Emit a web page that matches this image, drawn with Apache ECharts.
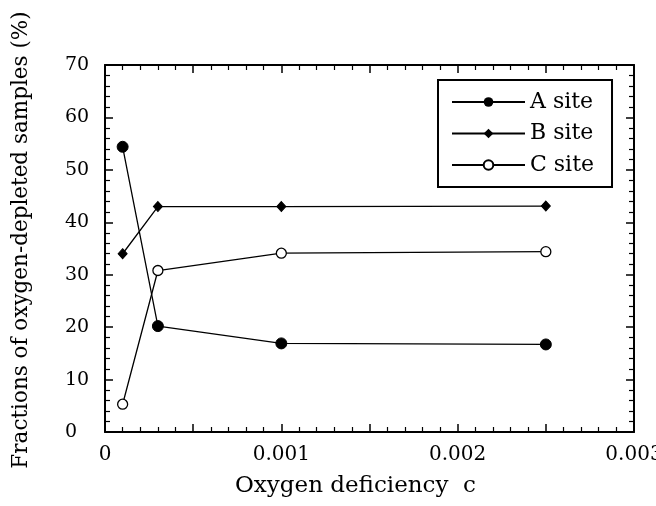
<!DOCTYPE html>
<html><head><meta charset="utf-8">
<script src="https://cdn.jsdelivr.net/npm/echarts@6/dist/echarts.min.js"></script>
<style>html,body{margin:0;padding:0;background:#fff}#c{width:656px;height:506px}</style>
</head><body><div id="c"></div>
<script>
const xValues = [0.0001, 0.0003, 0.001, 0.0025];
const aSite = [54.4, 20.2, 16.9, 16.7];
const bSite = [34.0, 43.0, 43.0, 43.1];
const cSite = [5.3, 30.8, 34.1, 34.4];
const seriesNames = ['A site', 'B site', 'C site'];
const xTitle = 'Oxygen deficiency  c';
const yTitle = 'Fractions of oxygen-depleted samples (%)';

const FONT = 'DejaVu Serif';
const pair = ys => xValues.map((x, i) => [x, ys[i]]);
const fmtX = v => Math.abs(v * 1000 - Math.round(v * 1000)) < 1e-6 ? String(Math.round(v * 1000) / 1000) : '';
const axisCommon = () => ({
  axisLine: { show: true, onZero: false, lineStyle: { color: '#000', width: 2 } },
  axisTick: { show: true, inside: true, length: 8, lineStyle: { color: '#000', width: 1.5 } },
  minorTick: { show: true, splitNumber: 5, length: 5, lineStyle: { color: '#000', width: 1.2 } },
  splitLine: { show: false },
  minorSplitLine: { show: false }
});
const chart = echarts.init(document.getElementById('c'));
chart.setOption({
  animation: false,
  backgroundColor: '#fff',
  grid: { left: 105, top: 65, right: 22, bottom: 74, containLabel: false, outerBoundsMode: 'none' },
  legend: {
    left: 438, top: 80,
    orient: 'vertical',
    data: seriesNames,
    itemWidth: 73, itemHeight: 12, itemGap: 9.5,
    padding: [11, 18, 11, 13],
    borderColor: '#000', borderWidth: 2,
    textStyle: { fontFamily: FONT, fontSize: 22, color: '#000' }
  },
  xAxis: [
    Object.assign({
      type: 'value', min: 0, max: 0.003, interval: 0.0005, position: 'bottom',
      name: xTitle, nameLocation: 'middle', nameGap: 43,
      nameTextStyle: { fontFamily: FONT, fontSize: 23, color: '#000', padding: [0, 28, 0, 0] },
      axisLabel: { formatter: fmtX, fontFamily: FONT, fontSize: 20, color: '#000', margin: 13 }
    }, axisCommon()),
    Object.assign({
      type: 'value', min: 0, max: 0.003, interval: 0.0005, position: 'top',
      axisLabel: { show: false }
    }, axisCommon())
  ],
  yAxis: [
    Object.assign({
      type: 'value', min: 0, max: 70, interval: 10, position: 'left',
      name: yTitle, nameLocation: 'middle', nameGap: 73,
      nameTextStyle: { fontFamily: FONT, fontSize: 21.5, color: '#000', padding: [0, 0, 0, 17] },
      axisLabel: { fontFamily: FONT, fontSize: 19, color: '#000', margin: 40, align: 'left' }
    }, axisCommon()),
    Object.assign({
      type: 'value', min: 0, max: 70, interval: 10, position: 'right',
      axisLabel: { show: false }
    }, axisCommon())
  ],
  series: [
    { name: seriesNames[0], type: 'line', data: pair(aSite), symbol: 'circle', symbolSize: 11,
      lineStyle: { color: '#000', width: 1.3 }, itemStyle: { color: '#000', borderColor: '#000' } },
    { name: seriesNames[1], type: 'line', data: pair(bSite), symbol: 'diamond', symbolSize: [9, 10],
      lineStyle: { color: '#000', width: 1.3 }, itemStyle: { color: '#000', borderColor: '#000' } },
    { name: seriesNames[2], type: 'line', data: pair(cSite), symbol: 'circle', symbolSize: 10,
      lineStyle: { color: '#000', width: 1.3 }, itemStyle: { color: '#fff', borderColor: '#000', borderWidth: 1.3 } }
  ]
});
</script></body></html>
